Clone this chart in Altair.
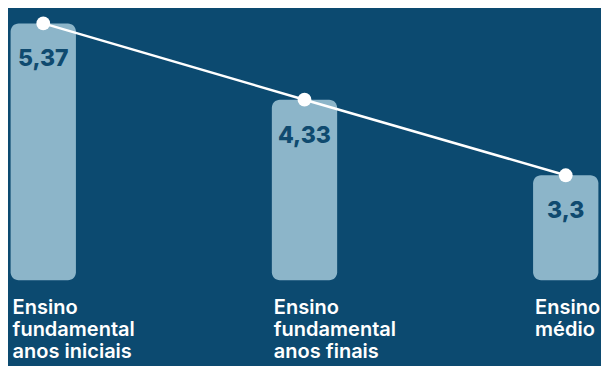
import altair as alt
import pandas as pd

categories = ["Ensino fundamental anos iniciais", "Ensino fundamental anos finais", "Ensino médio"]
label_lines = ["Ensino|fundamental|anos iniciais", "Ensino|fundamental|anos finais", "Ensino|médio"]
values = [5.37, 4.33, 3.3]
BASE = 1.87

df = pd.DataFrame({"cat": categories, "label": label_lines, "value": values})

xscale = alt.Scale(paddingInner=0.75, paddingOuter=0.01)
x = alt.X("cat:N", sort=categories, axis=None, scale=xscale)
y = alt.Y("value:Q", axis=None, scale=alt.Scale(domain=[0.70, 5.58], zero=False, nice=False))

base = alt.Chart(df)

bars = base.mark_bar(color="#8cb5c9", cornerRadius=8).encode(
    x=x, y=y, y2=alt.datum(BASE)
)

line = base.mark_line(color="white", strokeWidth=2.5).encode(x=x, y=y)
points = base.mark_point(filled=True, color="white", size=190, opacity=1).encode(x=x, y=y)

vals = base.transform_calculate(
    txt="replace(toString(datum.value), '.', ',')"
).mark_text(font="Inter", fontSize=23, fontWeight=800, color="#0f4a6f",
            baseline="middle", dy=36).encode(x=x, y=y, text="txt:N")

labels = base.mark_text(font="Inter", fontSize=20, fontWeight=600, color="white",
                        align="left", baseline="alphabetic", lineBreak="|",
                        lineHeight=22, dx=2).encode(
    x=alt.X("cat:N", sort=categories, axis=None, bandPosition=0, scale=xscale),
    y=alt.value(306),
    text="label:N",
)

chart = alt.layer(bars, line, points, vals, labels).properties(
    width=593, height=358, padding=0, background="#0c4a70",
    autosize=alt.AutoSizeParams(type="fit", contains="padding"),
).configure_view(stroke=None)

chart.save("out.html", embed_options={"renderer": "svg", "actions": False})
